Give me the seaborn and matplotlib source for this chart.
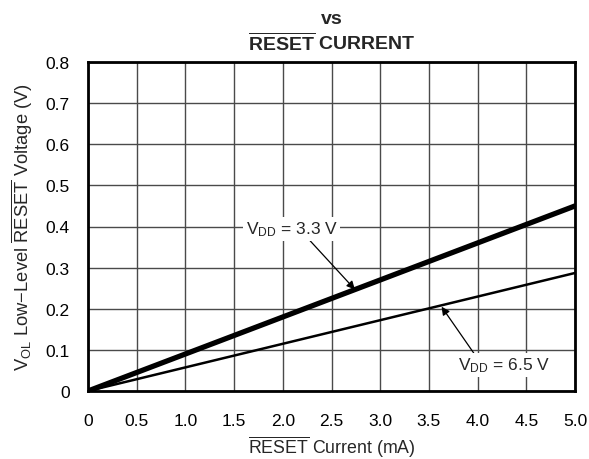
import matplotlib
matplotlib.use("Agg")
import matplotlib.pyplot as plt
import seaborn as sns
import pandas as pd

# Data
current_ma = [0.0, 5.0]
v_ol_33 = [0.0, 0.45]
v_ol_65 = [0.0, 0.287]
x_ticks = [0, 0.5, 1.0, 1.5, 2.0, 2.5, 3.0, 3.5, 4.0, 4.5, 5.0]
x_tick_labels = ["0", "0.5", "1.0", "1.5", "2.0", "2.5", "3.0", "3.5", "4.0", "4.5", "5.0"]
y_ticks = [0, 0.1, 0.2, 0.3, 0.4, 0.5, 0.6, 0.7, 0.8]
y_tick_labels = ["0", "0.1", "0.2", "0.3", "0.4", "0.5", "0.6", "0.7", "0.8"]

sns.set_style("white")
plt.rcParams["font.family"] = ["Liberation Sans", "DejaVu Sans"]
plt.rcParams["mathtext.fontset"] = "custom"
plt.rcParams["mathtext.rm"] = "Liberation Sans"
plt.rcParams["mathtext.it"] = "Liberation Sans:italic"
plt.rcParams["mathtext.bf"] = "Liberation Sans:bold"

df33 = pd.DataFrame({"I": current_ma, "V": v_ol_33})
df65 = pd.DataFrame({"I": current_ma, "V": v_ol_65})

fig = plt.figure(figsize=(5.89, 4.60), dpi=100)
ax = fig.add_axes([88/589, 1 - 392/460, (575-88)/589, (392-63)/460])

ax.set_xlim(0, 5.0)
ax.set_ylim(0, 0.8)
ax.set_xticks(x_ticks)
ax.set_xticklabels(x_tick_labels)
ax.set_yticks(y_ticks)
ax.set_yticklabels(y_tick_labels)
ax.grid(True, color="#4a4a4a", linewidth=1.0, zorder=0)
ax.set_axisbelow(True)

sns.lineplot(data=df33, x="I", y="V", ax=ax, color="black", linewidth=3.8,
             solid_capstyle="round", zorder=3)
sns.lineplot(data=df65, x="I", y="V", ax=ax, color="black", linewidth=1.8,
             solid_capstyle="round", zorder=3)

for s in ax.spines.values():
    s.set_visible(True)
    s.set_linewidth(2.0)
    s.set_color("black")
    s.set_zorder(5)

ax.tick_params(axis="both", length=0, labelsize=12.5, colors="black")
ax.tick_params(axis="y", pad=13)
ax.tick_params(axis="x", pad=16)

ax.set_xlabel(r"$\overline{\mathrm{RESET}}$ Current (mA)", fontsize=12.8, labelpad=4)
ax.set_ylabel(r"V$_{\mathrm{OL}}$ Low$-$Level $\overline{\mathrm{RESET}}$ Voltage (V)",
              fontsize=13.2, labelpad=8)

cx = (88 + 575) / 2 / 589
fig.text(cx, 1 - 20/460, "vs", fontsize=14, fontweight="bold",
         ha="center", va="center")
fig.text(cx, 1 - 43.5/460, r"$\overline{\mathbf{RESET}}$ CURRENT", fontsize=14,
         fontweight="bold", ha="center", va="center")

bbox = dict(boxstyle="square,pad=0.15", fc="white", ec="none")
ax.annotate(r"V$_{\mathrm{DD}}$ = 3.3 V", xy=(2.74, 0.247), xytext=(1.62, 0.395),
            fontsize=12.5, va="center", ha="left", bbox=bbox, zorder=6,
            arrowprops=dict(arrowstyle="-|>", color="black", lw=0.9,
                            shrinkA=0, shrinkB=0, mutation_scale=12,
                            relpos=(0.67, 0.0)))
ax.annotate(r"V$_{\mathrm{DD}}$ = 6.5 V", xy=(3.63, 0.205), xytext=(3.80, 0.063),
            fontsize=12.5, va="center", ha="left", bbox=bbox, zorder=6,
            arrowprops=dict(arrowstyle="-|>", color="black", lw=0.9,
                            shrinkA=0, shrinkB=0, mutation_scale=12,
                            relpos=(0.19, 1.0)))

fig.savefig("out.png", dpi=100)
